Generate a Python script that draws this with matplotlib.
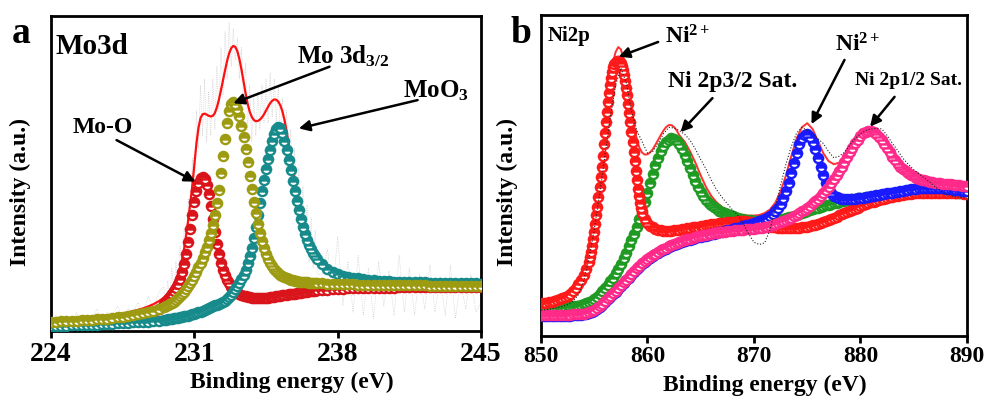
import numpy as np
import matplotlib.pyplot as plt
import matplotlib

matplotlib.rcParams['font.family'] = 'Liberation Serif'
matplotlib.rcParams['font.weight'] = 'bold'
matplotlib.rcParams['mathtext.fontset'] = 'custom'
matplotlib.rcParams['mathtext.rm'] = 'Liberation Serif:bold'
matplotlib.rcParams['mathtext.it'] = 'Liberation Serif:bold'
matplotlib.rcParams['mathtext.bf'] = 'Liberation Serif:bold'


def seg(*parts):
    # binding energy grid built from (start, stop, step) pieces
    return np.concatenate([np.round(np.arange(a, b + s / 2, s), 3) for a, b, s in parts])


# ---------------- (a) Mo 3d ----------------
xa = seg((224, 229.5, 0.25), (229.6, 237.0, 0.1), (237.25, 245, 0.25))

mo_o = [0.019, 0.019, 0.020, 0.020, 0.021, 0.022, 0.023, 0.024,
        0.025, 0.026, 0.027, 0.028, 0.030, 0.032, 0.034, 0.036,
        0.039, 0.043, 0.047, 0.052, 0.060, 0.071, 0.085,
        0.095, 0.102, 0.109, 0.117, 0.126, 0.137, 0.150, 0.166, 0.187, 0.213,
        0.245, 0.283, 0.325, 0.368, 0.408, 0.443, 0.470, 0.486, 0.490, 0.482,
        0.463, 0.434, 0.397, 0.356, 0.315, 0.277, 0.244, 0.217, 0.195, 0.177,
        0.163, 0.151, 0.141, 0.133, 0.127, 0.122, 0.118, 0.115, 0.112, 0.110,
        0.109, 0.107, 0.106, 0.105, 0.104, 0.104, 0.104, 0.104, 0.105, 0.105,
        0.106, 0.107, 0.108, 0.109, 0.110, 0.111, 0.112, 0.113, 0.114, 0.115,
        0.116, 0.117, 0.118, 0.119, 0.120, 0.121, 0.122, 0.123, 0.124, 0.125,
        0.126, 0.127, 0.127, 0.128, 0.129,
        0.130, 0.131, 0.132, 0.133, 0.134, 0.135, 0.135, 0.136,
        0.136, 0.137, 0.137, 0.138, 0.138, 0.138, 0.138, 0.139,
        0.139, 0.139, 0.139, 0.140, 0.140, 0.140, 0.140, 0.140,
        0.140, 0.141, 0.141, 0.141, 0.141, 0.141, 0.141, 0.141]

mo_3d32 = [0.030, 0.030, 0.031, 0.031, 0.032, 0.033, 0.034, 0.035,
           0.036, 0.037, 0.038, 0.039, 0.041, 0.043, 0.045, 0.047,
           0.050, 0.053, 0.056, 0.060, 0.064, 0.069, 0.075,
           0.078, 0.081, 0.085, 0.089, 0.093, 0.098, 0.104, 0.110, 0.117, 0.125,
           0.133, 0.142, 0.152, 0.163, 0.175, 0.188, 0.202, 0.217, 0.233, 0.250,
           0.268, 0.288, 0.310, 0.337, 0.368, 0.405, 0.448, 0.500, 0.555, 0.610,
           0.660, 0.698, 0.720, 0.728, 0.722, 0.706, 0.682, 0.652, 0.617, 0.578,
           0.536, 0.493, 0.450, 0.410, 0.373, 0.340, 0.311, 0.286, 0.264, 0.245,
           0.230, 0.217, 0.206, 0.197, 0.189, 0.183, 0.178, 0.174, 0.170, 0.167,
           0.165, 0.163, 0.161, 0.160, 0.158, 0.157, 0.156, 0.155, 0.155, 0.154,
           0.153, 0.153, 0.152, 0.152, 0.152,
           0.151, 0.150, 0.150, 0.149, 0.149, 0.148, 0.148, 0.147,
           0.147, 0.147, 0.147, 0.146, 0.146, 0.146, 0.146, 0.145,
           0.145, 0.145, 0.145, 0.145, 0.145, 0.144, 0.144, 0.144,
           0.144, 0.144, 0.144, 0.144, 0.144, 0.143, 0.143, 0.143]

moo3 = [0.016, 0.016, 0.017, 0.017, 0.018, 0.018, 0.019, 0.019,
        0.020, 0.020, 0.021, 0.022, 0.023, 0.024, 0.025, 0.026,
        0.027, 0.028, 0.029, 0.030, 0.032, 0.033, 0.035,
        0.036, 0.037, 0.038, 0.039, 0.040, 0.041, 0.042, 0.043, 0.045, 0.046,
        0.048, 0.049, 0.051, 0.053, 0.055, 0.057, 0.059, 0.061, 0.064, 0.066,
        0.069, 0.072, 0.075, 0.078, 0.081, 0.084, 0.087, 0.090, 0.093, 0.096,
        0.100, 0.107, 0.115, 0.124, 0.133, 0.142, 0.152, 0.164, 0.178, 0.195,
        0.215, 0.238, 0.265, 0.296, 0.330, 0.367, 0.405, 0.443, 0.480, 0.515,
        0.547, 0.576, 0.603, 0.626, 0.642, 0.648, 0.643, 0.628, 0.604, 0.575,
        0.543, 0.510, 0.477, 0.445, 0.413, 0.383, 0.355, 0.330, 0.308, 0.290,
        0.274, 0.260, 0.248, 0.237, 0.228,
        0.212, 0.198, 0.188, 0.180, 0.175, 0.172, 0.169, 0.167,
        0.165, 0.163, 0.161, 0.160, 0.159, 0.158, 0.157, 0.156,
        0.156, 0.155, 0.155, 0.154, 0.154, 0.153, 0.153, 0.152,
        0.152, 0.152, 0.152, 0.151, 0.151, 0.151, 0.151, 0.150]

mo_fit = [0.035, 0.036, 0.037, 0.038, 0.039, 0.040, 0.041, 0.042,
          0.044, 0.045, 0.047, 0.049, 0.051, 0.053, 0.056, 0.059,
          0.063, 0.067, 0.072, 0.078, 0.085, 0.094, 0.105,
          0.112, 0.120, 0.129, 0.139, 0.150, 0.164, 0.181, 0.202, 0.228, 0.262,
          0.305, 0.352, 0.405, 0.462, 0.530, 0.595, 0.645, 0.676, 0.688, 0.690,
          0.687, 0.683, 0.681, 0.683, 0.692, 0.710, 0.735, 0.765, 0.797, 0.828,
          0.858, 0.882, 0.898, 0.905, 0.902, 0.888, 0.863, 0.830, 0.792, 0.755,
          0.722, 0.697, 0.680, 0.670, 0.666, 0.667, 0.671, 0.678, 0.688, 0.700,
          0.712, 0.723, 0.731, 0.735, 0.734, 0.728, 0.716, 0.697, 0.670, 0.636,
          0.596, 0.556, 0.517, 0.480, 0.445, 0.412, 0.382, 0.355, 0.331, 0.310,
          0.292, 0.277, 0.264, 0.253, 0.244,
          0.225, 0.208, 0.197, 0.188, 0.181, 0.176, 0.171, 0.167,
          0.164, 0.161, 0.158, 0.156, 0.154, 0.152, 0.150, 0.149,
          0.147, 0.146, 0.145, 0.144, 0.143, 0.142, 0.141, 0.140,
          0.139, 0.139, 0.138, 0.138, 0.137, 0.137, 0.136, 0.136]

mo_raw = [0.03, 0.05, 0.02, 0.04, 0.03, 0.06, 0.02, 0.05,
          0.04, 0.07, 0.03, 0.06, 0.05, 0.08, 0.04, 0.07,
          0.06, 0.09, 0.05, 0.11, 0.07, 0.12, 0.14,
          0.08, 0.16, 0.10, 0.20, 0.12, 0.22, 0.15, 0.27, 0.18, 0.33,
          0.25, 0.42, 0.33, 0.55, 0.42, 0.70, 0.58, 0.78, 0.62, 0.80,
          0.60, 0.76, 0.62, 0.80, 0.64, 0.84, 0.70, 0.90, 0.75, 0.95,
          0.80, 0.98, 0.84, 0.96, 0.86, 0.93, 0.80, 0.90, 0.72, 0.85,
          0.64, 0.78, 0.60, 0.74, 0.62, 0.76, 0.64, 0.78, 0.66, 0.80,
          0.66, 0.82, 0.68, 0.80, 0.66, 0.78, 0.62, 0.74, 0.58, 0.70,
          0.52, 0.64, 0.45, 0.58, 0.38, 0.52, 0.32, 0.46, 0.28, 0.40,
          0.22, 0.36, 0.20, 0.32, 0.18,
          0.18, 0.26, 0.12, 0.30, 0.08, 0.22, 0.06, 0.24,
          0.05, 0.20, 0.04, 0.22, 0.08, 0.19, 0.05, 0.24,
          0.06, 0.20, 0.05, 0.18, 0.07, 0.21, 0.06, 0.17,
          0.05, 0.21, 0.04, 0.16, 0.07, 0.18, 0.06, 0.09]

ticks_a = [224, 231, 238, 245]

# ---------------- (b) Ni 2p ----------------
x_red = seg((850, 854.5, 0.25), (854.6, 859.5, 0.1), (859.75, 890, 0.25))
x_q = seg((850, 890, 0.25))
x_half = seg((850, 890, 0.5))
x_env = seg((850, 854, 0.5), (854.25, 863, 0.25), (863.5, 890, 0.5))

ni_32 = [0.102, 0.103, 0.104, 0.105, 0.107, 0.109, 0.111, 0.114,
         0.117, 0.121, 0.126, 0.132, 0.140, 0.150, 0.162, 0.175,
         0.190, 0.208, 0.230,
         0.245, 0.262, 0.281, 0.302, 0.325, 0.350, 0.376, 0.403, 0.432, 0.463,
         0.495, 0.528, 0.562, 0.597, 0.632, 0.666, 0.699, 0.730, 0.758, 0.783,
         0.805, 0.823, 0.837, 0.847, 0.853, 0.856, 0.857, 0.857, 0.854, 0.849,
         0.840, 0.828, 0.813, 0.795, 0.774, 0.750, 0.724, 0.696, 0.666, 0.636,
         0.605, 0.574, 0.544, 0.514, 0.486, 0.459, 0.436, 0.415, 0.398, 0.384,
         0.366,
         0.352, 0.344, 0.338, 0.334, 0.331, 0.329, 0.328, 0.328,
         0.328, 0.328, 0.329, 0.330, 0.331, 0.332, 0.334, 0.335,
         0.337, 0.338, 0.340, 0.341, 0.343, 0.344, 0.346, 0.347,
         0.348, 0.349, 0.350, 0.351, 0.352, 0.353, 0.354, 0.355,
         0.356, 0.356, 0.357, 0.357, 0.357, 0.357, 0.356, 0.355,
         0.353, 0.351, 0.349, 0.347, 0.345, 0.343, 0.341, 0.340,
         0.338, 0.337, 0.336, 0.335, 0.335, 0.335, 0.335, 0.335,
         0.336, 0.337, 0.338, 0.339, 0.341, 0.343, 0.345, 0.347,
         0.350, 0.353, 0.356, 0.359, 0.362, 0.365, 0.369, 0.372,
         0.376, 0.379, 0.383, 0.386, 0.390, 0.393, 0.397, 0.400,
         0.404, 0.407, 0.410, 0.413, 0.416, 0.418, 0.421, 0.423,
         0.426, 0.428, 0.430, 0.432, 0.434, 0.435, 0.437, 0.438,
         0.440, 0.441, 0.442, 0.443, 0.444, 0.444, 0.445, 0.445,
         0.446, 0.446, 0.447, 0.447, 0.447, 0.447, 0.447, 0.447,
         0.447, 0.446, 0.446, 0.445, 0.445, 0.444, 0.444, 0.443,
         0.443]

sat_32 = [0.090, 0.090, 0.090, 0.090, 0.090, 0.090, 0.091, 0.091,
          0.091, 0.091, 0.092, 0.092, 0.093, 0.094, 0.095, 0.097,
          0.099, 0.102, 0.106, 0.110, 0.116, 0.123, 0.130, 0.139,
          0.148, 0.158, 0.170, 0.182, 0.195, 0.210, 0.225, 0.242,
          0.260, 0.279, 0.298, 0.318, 0.340, 0.364, 0.390, 0.418,
          0.447, 0.477, 0.505, 0.532, 0.555, 0.576, 0.592, 0.604,
          0.612, 0.616, 0.615, 0.609, 0.598, 0.583, 0.565, 0.545,
          0.523, 0.502, 0.482, 0.465, 0.449, 0.436, 0.424, 0.415,
          0.407, 0.401, 0.395, 0.390, 0.386, 0.382, 0.379, 0.376,
          0.373, 0.370, 0.368, 0.366, 0.364, 0.362, 0.361, 0.360,
          0.359, 0.358, 0.358, 0.358, 0.358, 0.358, 0.359, 0.360,
          0.361, 0.362, 0.364, 0.366, 0.368, 0.370, 0.372, 0.374,
          0.377, 0.380, 0.383, 0.386, 0.389, 0.392, 0.395, 0.398,
          0.400, 0.403, 0.405, 0.407, 0.409, 0.411, 0.413, 0.415,
          0.417, 0.419, 0.421, 0.423, 0.424, 0.426, 0.427, 0.429,
          0.430, 0.431, 0.432, 0.433, 0.434, 0.435, 0.436, 0.437,
          0.438, 0.439, 0.440, 0.441, 0.442, 0.443, 0.444, 0.445,
          0.446, 0.447, 0.448, 0.449, 0.450, 0.451, 0.451, 0.452,
          0.452, 0.452, 0.452, 0.452, 0.452, 0.452, 0.451, 0.451,
          0.450, 0.450, 0.449, 0.448, 0.447, 0.447, 0.446, 0.446,
          0.445]

ni_12 = [0.062, 0.062, 0.062, 0.062, 0.062, 0.062, 0.062, 0.062,
         0.063, 0.063, 0.063, 0.063, 0.064, 0.064, 0.065, 0.066,
         0.067, 0.069, 0.071, 0.074, 0.079, 0.085, 0.091, 0.098,
         0.106, 0.114, 0.122, 0.130, 0.138, 0.146, 0.155, 0.164,
         0.173, 0.182, 0.191, 0.200, 0.208, 0.216, 0.223, 0.230,
         0.237, 0.243, 0.249, 0.254, 0.259, 0.264, 0.268, 0.272,
         0.276, 0.280, 0.283, 0.286, 0.289, 0.292, 0.295, 0.298,
         0.300, 0.303, 0.305, 0.307, 0.309, 0.311, 0.313, 0.315,
         0.317, 0.319, 0.321, 0.323, 0.325, 0.327, 0.329, 0.331,
         0.333, 0.335, 0.337, 0.340, 0.342, 0.345, 0.347, 0.350,
         0.352, 0.355, 0.358, 0.362, 0.365, 0.369, 0.374, 0.380,
         0.388, 0.398, 0.412, 0.430, 0.452, 0.478, 0.508, 0.540,
         0.571, 0.598, 0.617, 0.627, 0.628, 0.621, 0.605, 0.582,
         0.555, 0.527, 0.500, 0.477, 0.459, 0.446, 0.437, 0.432,
         0.429, 0.428, 0.427, 0.427, 0.427, 0.427, 0.428, 0.429,
         0.430, 0.431, 0.432, 0.434, 0.435, 0.437, 0.438, 0.440,
         0.441, 0.443, 0.444, 0.446, 0.447, 0.449, 0.450, 0.452,
         0.453, 0.455, 0.456, 0.457, 0.458, 0.459, 0.460, 0.461,
         0.461, 0.462, 0.462, 0.462, 0.462, 0.462, 0.461, 0.460,
         0.459, 0.458, 0.457, 0.456, 0.455, 0.454, 0.453, 0.452,
         0.451]

sat_12 = [0.065, 0.065, 0.065, 0.065, 0.065, 0.065, 0.065, 0.065,
          0.066, 0.066, 0.066, 0.066, 0.067, 0.067, 0.068, 0.069,
          0.070, 0.072, 0.074, 0.077, 0.082, 0.088, 0.094, 0.101,
          0.109, 0.117, 0.125, 0.133, 0.141, 0.149, 0.158, 0.167,
          0.176, 0.185, 0.194, 0.203, 0.211, 0.219, 0.226, 0.233,
          0.240, 0.246, 0.252, 0.257, 0.262, 0.267, 0.271, 0.275,
          0.279, 0.283, 0.286, 0.289, 0.292, 0.295, 0.298, 0.301,
          0.303, 0.306, 0.308, 0.310, 0.312, 0.314, 0.316, 0.318,
          0.319, 0.321, 0.322, 0.323, 0.324, 0.325, 0.326, 0.327,
          0.328, 0.329, 0.329, 0.330, 0.331, 0.332, 0.332, 0.333,
          0.334, 0.335, 0.336, 0.337, 0.339, 0.341, 0.343, 0.345,
          0.348, 0.351, 0.354, 0.357, 0.361, 0.365, 0.369, 0.373,
          0.378, 0.383, 0.388, 0.394, 0.400, 0.406, 0.413, 0.420,
          0.428, 0.436, 0.445, 0.455, 0.465, 0.476, 0.488, 0.501,
          0.514, 0.528, 0.542, 0.557, 0.572, 0.587, 0.600, 0.612,
          0.622, 0.631, 0.637, 0.640, 0.640, 0.637, 0.630, 0.621,
          0.610, 0.598, 0.585, 0.572, 0.559, 0.547, 0.537, 0.528,
          0.520, 0.513, 0.507, 0.502, 0.497, 0.493, 0.490, 0.487,
          0.485, 0.483, 0.481, 0.480, 0.478, 0.477, 0.476, 0.475,
          0.474, 0.473, 0.472, 0.471, 0.470, 0.469, 0.468, 0.467,
          0.466]

ni_fit = [0.106, 0.108, 0.111, 0.116, 0.123, 0.133, 0.148, 0.168, 0.196,
          0.218, 0.246, 0.283, 0.340, 0.405, 0.478, 0.560, 0.645, 0.728, 0.797,
          0.850, 0.884, 0.900, 0.893, 0.864, 0.818, 0.762, 0.704, 0.652, 0.612,
          0.586, 0.571, 0.565, 0.566, 0.572, 0.582, 0.596, 0.611, 0.626, 0.640,
          0.651, 0.657, 0.657, 0.651, 0.640, 0.625,
          0.605, 0.575, 0.540, 0.500, 0.464, 0.436, 0.416, 0.402, 0.392, 0.385,
          0.380, 0.377, 0.375, 0.375, 0.377, 0.383, 0.394, 0.415, 0.450, 0.500,
          0.560, 0.615, 0.650, 0.663, 0.645, 0.608, 0.570, 0.545, 0.535, 0.540,
          0.558, 0.585, 0.612, 0.635, 0.647, 0.645, 0.630, 0.605, 0.578, 0.552,
          0.532, 0.517, 0.505, 0.496, 0.489, 0.484, 0.480, 0.477, 0.475, 0.473,
          0.471, 0.469, 0.467, 0.465]

ni_raw = [0.080, 0.082, 0.085, 0.088, 0.092, 0.098, 0.108, 0.128, 0.170,
          0.240, 0.330, 0.440, 0.560, 0.680, 0.780, 0.835, 0.790, 0.700, 0.640,
          0.605, 0.570, 0.575, 0.600, 0.630, 0.650, 0.648, 0.640, 0.628, 0.610,
          0.582, 0.550, 0.520, 0.485, 0.455, 0.432, 0.412, 0.392, 0.375, 0.350,
          0.318, 0.292, 0.285, 0.290, 0.330, 0.400, 0.470, 0.535, 0.590, 0.632,
          0.650, 0.640, 0.628, 0.615, 0.600, 0.575, 0.555, 0.560, 0.572, 0.595,
          0.615, 0.630, 0.640, 0.645, 0.647, 0.645, 0.625, 0.600, 0.578, 0.553,
          0.535, 0.518, 0.505, 0.492, 0.480, 0.465, 0.452, 0.442, 0.437, 0.433,
          0.431, 0.430]

ticks_b = [850, 860, 870, 880, 890]


def comp(ax, x, y, c, ms=6.6):
    ax.plot(x, y, 'o', ms=ms, mfc=c, mfcalt='white', mec=c, mew=1.7,
            fillstyle='top', zorder=3)


def arrow(ax, tail, head):
    ax.annotate('', xy=head, xytext=tail,
                arrowprops=dict(arrowstyle='-|>', color='black', lw=1.8,
                                mutation_scale=16, shrinkA=0, shrinkB=0),
                zorder=6)


def style(ax, ticks, lab, pad):
    for s in ax.spines.values():
        s.set_linewidth(2)
    ax.set_xticks(ticks)
    ax.set_yticks([])
    ax.tick_params(axis='x', direction='out', length=5, width=2, labelsize=lab, pad=pad)
    ax.set_ylim(0, 1)
    ax.set_xlabel('Binding energy (eV)', fontsize=17, fontweight='bold')
    ax.set_ylabel('Intensity (a.u.)', fontsize=17, fontweight='bold')


fig = plt.figure(figsize=(9.87, 4.01), dpi=100)
ax1 = fig.add_axes([0.0517, 0.1746, 0.4357, 0.7855])
ax2 = fig.add_axes([0.5481, 0.1621, 0.4316, 0.8005])

# panel a
ax1.plot(xa, mo_raw, ':', color='#c6c6c6', lw=0.5, zorder=1)
ax1.plot(xa, mo_fit, '-', color='#ff1010', lw=1.6, zorder=2)
comp(ax1, xa, mo_o, '#d9141b')
comp(ax1, xa, moo3, '#178b8b')
comp(ax1, xa, mo_3d32, '#9d9b12')
ax1.set_xlim(224, 245)
style(ax1, ticks_a, 20, 3)
ax1.xaxis.set_label_coords(0.56, -0.13)
ax1.yaxis.set_label_coords(-0.047, 0.44)

ax1.text(224.2, 0.88, 'Mo3d', fontsize=21, fontweight='bold')
ax1.text(225.05, 0.63, 'Mo-O', fontsize=17, fontweight='bold')
ax1.text(236.0, 0.85, r'Mo 3d$\mathregular{_{3/2}}$', fontsize=18, fontweight='bold')
ax1.text(241.2, 0.742, r'MoO$\mathregular{_3}$', fontsize=18, fontweight='bold')
arrow(ax1, (227.2, 0.606), (231.05, 0.474))
arrow(ax1, (237.6, 0.839), (232.9, 0.723))
arrow(ax1, (241.9, 0.733), (236.1, 0.643))

# panel b
ax2.plot(x_env, ni_fit, '-', color='#ff3030', lw=1.4, zorder=2)
comp(ax2, x_q, sat_32, '#1f9a22')
comp(ax2, x_red, ni_32, '#ff1a1a')
comp(ax2, x_q, ni_12, '#1a1aff')
comp(ax2, x_q, sat_12, '#ff2a8a')
ax2.plot(x_half, ni_raw, ':', color='#222222', lw=0.8, zorder=4)
ax2.set_xlim(850, 890)
style(ax2, ticks_b, 17, 2)
ax2.xaxis.set_label_coords(0.526, -0.12)
ax2.yaxis.set_label_coords(-0.054, 0.45)

ax2.text(850.6, 0.919, 'Ni2p', fontsize=15, fontweight='bold')
ax2.text(861.6, 0.91, r'Ni$\mathregular{^{2+}}$', fontsize=17, fontweight='bold')
ax2.text(861.9, 0.775, 'Ni 2p3/2 Sat.', fontsize=17, fontweight='bold')
ax2.text(877.6, 0.886, r'Ni$\mathregular{^{2+}}$', fontsize=17, fontweight='bold')
ax2.text(879.5, 0.782, 'Ni 2p1/2 Sat.', fontsize=14, fontweight='bold')
arrow(ax2, (861.0, 0.916), (857.3, 0.87))
arrow(ax2, (866.1, 0.741), (863.1, 0.635))
arrow(ax2, (878.5, 0.86), (875.4, 0.66))
arrow(ax2, (883.2, 0.745), (880.9, 0.652))

fig.text(0.012, 0.893, 'a', fontsize=27, fontweight='bold')
fig.text(0.517, 0.893, 'b', fontsize=27, fontweight='bold')

fig.savefig('out.png', dpi=100)
